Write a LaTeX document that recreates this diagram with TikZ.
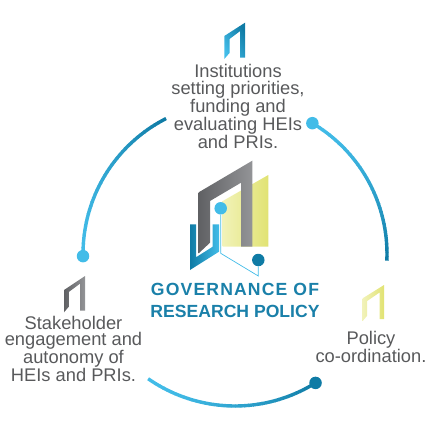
\documentclass[tikz,border=0pt]{standalone}
\usepackage{fontspec}
\setmainfont{Liberation Sans}
\usetikzlibrary{calc}
\definecolor{lb}{HTML}{42BCE8}
\definecolor{db}{HTML}{0F7BA5}
\definecolor{txt}{HTML}{58595B}
\definecolor{ttl}{HTML}{1A80A9}
\definecolor{gr}{HTML}{606164}
\definecolor{grl}{HTML}{939497}
\definecolor{yl}{HTML}{E1E373}
\definecolor{yll}{HTML}{F1F2B8}
\tikzset{
  lbl/.style={align=center,text=txt,font=\fontsize{18.3}{16.7}\selectfont,inner sep=0pt},
  ttlnode/.style={align=center,text=ttl,font=\bfseries\fontsize{17.6}{21.7}\selectfont,inner sep=0pt},
  dotnode/.style={circle,minimum size=12.5pt,inner sep=0pt},
  wire/.style={draw=lb,line width=0.7pt},
}
\newcommand{\gradarc}[3]{% start angle, end angle, 1 = light first / 0 = dark first
  \foreach \i in {0,...,39}{
    \pgfmathsetmacro{\aa}{#1+(#2-#1)*\i/40}
    \pgfmathsetmacro{\ab}{#1+(#2-#1)*(\i+1.15)/40}
    \pgfmathsetmacro{\tt}{#3==1 ? \i/39 : 1-\i/39}
    \pgfmathsetmacro{\pc}{100*(1-\tt^1.6)}
    \draw[line width=3.4pt,color=lb!\pc!db] ($(c)+(\aa:152)$) arc[start angle=\aa,end angle=\ab,radius=152];
  }
}
\begin{document}
\begin{tikzpicture}[x=1pt,y=-1pt]
\useasboundingbox (0,0) rectangle (432,432);
\coordinate (c) at (235,254);
% ring
\gradarc{-59.4}{2.3}{1}
\gradarc{179.2}{242.8}{1}
\gradarc{58}{124.6}{0}
\node[dotnode,fill=lb] (d1) at ($(c)+(-59.4:152)$) {};
\node[dotnode,fill=lb] (d2) at ($(c)+(179.2:152)$) {};
\node[dotnode,fill=db] (d3) at ($(c)+(58:152)$) {};
% small icons
\shade[top color=db,bottom color=lb,shading angle=-60] (224.3,36) -- (245,22.7) -- (245,57.7) -- (240.2,57.7) -- (240.2,31) -- (229.5,39) -- (229.5,53) -- (224.3,59) -- cycle;
\shade[left color=gr,right color=grl] (64,290) -- (85,276) -- (85,310.7) -- (80.2,310.7) -- (80.2,283.5) -- (68.8,292) -- (68.8,306.7) -- (64,312.3) -- cycle;
\shade[left color=yll,right color=yl] (362.7,298.3) -- (384,285) -- (384,319) -- (379.5,319) -- (379.5,292.5) -- (367.2,301) -- (367.2,315.7) -- (362.7,321) -- cycle;
% central emblem
\shade[left color=yll,right color=yl] (222.7,201) -- (268.3,175) -- (268.3,246.7) -- (222.7,246.7) -- cycle;
\shade[left color=gr,right color=grl] (198.7,192.3) -- (252.3,160.7) -- (252.3,246.7) -- (241,246.7) -- (241,182.7) -- (210,201) -- (210,242.7) -- (198.7,253.3) -- cycle;
\shade[left color=db,right color=lb] (190,224.3) -- (196,224.3) -- (196,257.3) -- (212.7,246.7) -- (212.7,224.3) -- (219,224.3) -- (219,251.7) -- (190,270) -- cycle;
\node[dotnode,fill=lb] (e1) at (220.7,208.3) {};
\node[dotnode,fill=db] (e2) at (258.3,260) {};
\coordinate (k1) at (220.7,253.3);
\coordinate (k2) at (258.3,276);
\draw[wire] (e1) -- (k1) -- (k2) -- (e2);
% labels
\node[lbl] (t1) at (238,106.5) {Institutions\\setting priorities,\\funding and\\evaluating HEIs\\and PRIs.};
\node[lbl] (t2) at (73.5,349) {Stakeholder\\engagement and\\autonomy of\\HEIs and PRIs.};
\node[lbl] (t3) at (371,346.5) {Policy\\co-ordination.};
\node[ttlnode] (t4) at (235,300.5) {\addfontfeature{LetterSpace=6.5}GOVERNANCE OF\\\addfontfeature{LetterSpace=0}RESEARCH POLICY};
\end{tikzpicture}
\end{document}
